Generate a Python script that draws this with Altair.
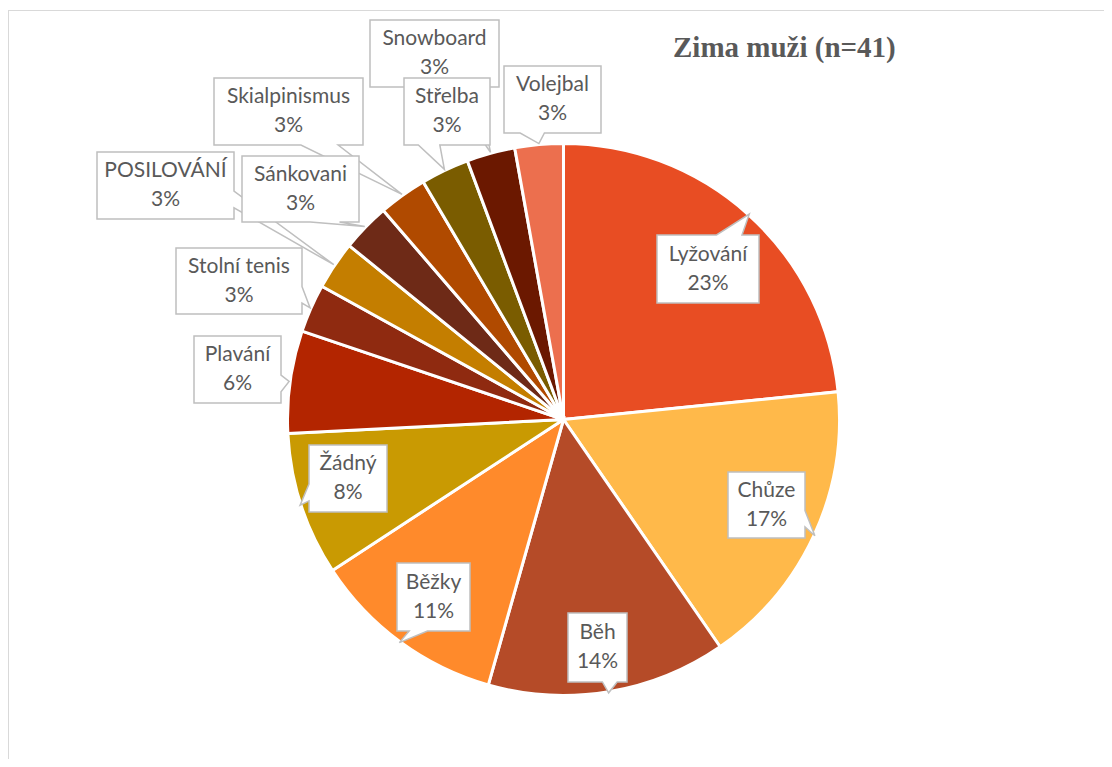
import math
import altair as alt
import pandas as pd

# ---------------- data ----------------
categories = ["Lyžování", "Chůze", "Běh", "Běžky", "Žádný", "Plavání",
              "Stolní tenis", "POSILOVÁNÍ", "Sánkovani", "Skialpinismus",
              "Střelba", "Snowboard", "Volejbal"]
shares = [23.4, 17.0, 14.0, 11.4, 8.4, 6.0, 2.83, 2.83, 2.83, 2.83, 2.83, 2.83, 2.83]
colors = ["#E84D23", "#FFB94A", "#B54B28", "#FF8A2B", "#C99A02", "#B32500",
          "#8F2A10", "#C47E00", "#6E2A17", "#B04A00", "#7A5C00", "#6B1800", "#EC6F4E"]
TITLE = "Zima muži (n=41)"

# ---------------- layout (page pixels) ----------------
W, H = 1096, 751
M = 8                      # page margin
PIE_CX, PIE_CY, PIE_R = 563.5, 419.5, 277
box_left = [657, 728, 568, 397, 309, 194, 176, 97, 242, 214, 404, 370, 504]
box_top = [235, 472, 613, 563, 445, 336, 248, 152, 156, 78, 78, 20, 66]
box_right = [759, 805, 627, 470, 387, 281, 302, 234, 359, 363, 490, 499, 601]
box_bottom = [303, 538, 682, 631, 512, 403, 314, 219, 222, 145, 145, 87, 133]
back_labels = ["Snowboard", "Skialpinismus", "POSILOVÁNÍ"]   # drawn underneath


def callout_path(L, T, R, B, tx, ty):
    cx, cy = (L + R) / 2, (T + B) / 2
    w, h = R - L, B - T
    dx, dy = tx - cx, ty - cy
    if L <= tx <= R and T <= ty <= B:
        pts = [(L, T), (R, T), (R, B), (L, B)]
    elif abs(dx) * h > abs(dy) * w:
        a, b = (T + h * 7 / 12, T + h * 10 / 12) if dy > 0 else (T + h * 2 / 12, T + h * 5 / 12)
        if dx > 0:
            pts = [(L, T), (R, T), (R, a), (tx, ty), (R, b), (R, B), (L, B)]
        else:
            pts = [(L, T), (R, T), (R, B), (L, B), (L, b), (tx, ty), (L, a)]
    else:
        a, b = (L + w * 7 / 12, L + w * 10 / 12) if dx > 0 else (L + w * 2 / 12, L + w * 5 / 12)
        if dy < 0:
            pts = [(L, T), (a, T), (tx, ty), (b, T), (R, T), (R, B), (L, B)]
        else:
            pts = [(L, T), (R, T), (R, B), (b, B), (tx, ty), (a, B), (L, B)]
    return "M" + " L".join(f"{x - cx:.2f},{y - cy:.2f}" for x, y in pts) + " Z"


total = sum(shares)
rows = []
cum = 0.0
for i, (cat, v) in enumerate(zip(categories, shares)):
    mid = (cum + v / 2) / total * 2 * math.pi
    cum += v
    tx = PIE_CX + PIE_R * math.sin(mid)
    ty = PIE_CY - PIE_R * math.cos(mid)
    L, T, R, B = box_left[i], box_top[i], box_right[i], box_bottom[i]
    rows.append({
        "idx": i,
        "cat": cat,
        "value": v,
        "label": f"{cat}\n{round(v)}%",
        "bx": (L + R) / 2 - M,
        "by": (T + B) / 2 - M,
        "path": callout_path(L, T, R, B, tx, ty),
        "level": 0 if cat in back_labels else 1,
    })
df = pd.DataFrame(rows)

xs = alt.Scale(domain=[0, W], nice=False, zero=False)
ys = alt.Scale(domain=[0, H], nice=False, zero=False, reverse=True)

pie = alt.Chart(df).mark_arc(radius=PIE_R - 1, stroke="white", strokeWidth=3).encode(
    theta=alt.Theta("value:Q", stack=True),
    order=alt.Order("idx:Q"),
    color=alt.Color("cat:N", scale=alt.Scale(domain=categories, range=colors), legend=None),
    x=alt.value(PIE_CX - M),
    y=alt.value(PIE_CY - M),
)

frame_df = pd.DataFrame({"k": [0]})
frame_v = alt.Chart(frame_df).mark_rule(color="#D9D9D9", strokeWidth=1).encode(
    x=alt.value(0.5), y=alt.value(2), y2=alt.value(H))
frame_h = alt.Chart(frame_df).mark_rule(color="#D9D9D9", strokeWidth=1).encode(
    x=alt.value(0), x2=alt.value(W), y=alt.value(2.5))

title = alt.Chart(pd.DataFrame({"t": [TITLE]})).mark_text(
    font="Liberation Serif", fontSize=29, fontWeight="bold", color="#595959",
    align="left", baseline="alphabetic").encode(
    text="t:N", x=alt.value(673 - M), y=alt.value(57 - M))

LH = 29
layers = [pie, frame_v, frame_h, title]
for lvl in [0, 1]:
    sub = df[df["level"] == lvl]
    boxes = alt.Chart(sub).mark_point(
        filled=True, fill="white", stroke="#BFBFBF", strokeWidth=1.5,
        size=4, opacity=1, fillOpacity=1, strokeOpacity=1).encode(
        x=alt.X("bx:Q", scale=xs, axis=None),
        y=alt.Y("by:Q", scale=ys, axis=None),
        shape=alt.Shape("path:N", scale=None),
    )
    texts = alt.Chart(sub).mark_text(
        font="Lato", fontSize=21, color="#595959", lineBreak="\n",
        lineHeight=LH, align="center", baseline="middle", dy=-LH / 2).encode(
        x=alt.X("bx:Q", scale=xs, axis=None),
        y=alt.Y("by:Q", scale=ys, axis=None),
        text="label:N",
    )
    layers += [boxes, texts]

chart = alt.layer(*layers).properties(
    width=W, height=H,
    autosize=alt.AutoSizeParams(type="none"),
    padding=0,
    background="white",
).configure_view(stroke=None)

chart.save("out.html", embed_options={"renderer": "svg", "actions": False})
